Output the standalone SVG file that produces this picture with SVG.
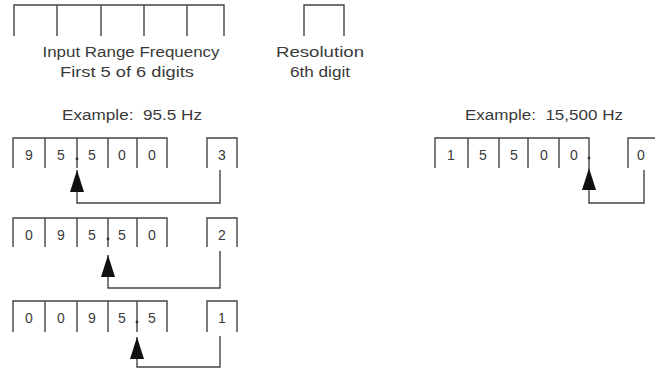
<svg xmlns="http://www.w3.org/2000/svg" width="655" height="370" viewBox="0 0 655 370">
<defs>
<style>
.ln{fill:none;stroke:#444;stroke-width:1.4}
.t{font-family:"Liberation Sans",Arial,sans-serif;font-size:14px;fill:#3a3a3a;text-anchor:middle;white-space:pre}
.d{font-family:"Liberation Sans",Arial,sans-serif;font-size:14px;fill:#3a3a3a;text-anchor:middle}
.dot{fill:#333}
</style>
<marker id="ah" viewBox="0 0 22 14" refX="22" refY="7" markerWidth="22" markerHeight="14" markerUnits="userSpaceOnUse" orient="auto">
<path d="M22 7 L0 0 L0 14 Z" fill="#111"/>
</marker>
</defs>
<rect width="655" height="370" fill="#fff"/>

<g id="header-input">
<path class="ln" d="M14 36 V5 H224 V36 M57 5 V36 M101 5 V36 M144 5 V36 M187 5 V36"/>
<text class="t" x="131" y="57" textLength="177" lengthAdjust="spacingAndGlyphs">Input Range Frequency</text>
<text class="t" x="127" y="77" textLength="134" lengthAdjust="spacingAndGlyphs">First 5 of 6 digits</text>
</g>

<g id="header-resolution">
<path class="ln" d="M304 36 V5 H344 V36"/>
<text class="t" x="320" y="57" textLength="88" lengthAdjust="spacingAndGlyphs">Resolution</text>
<text class="t" x="320" y="77" textLength="60" lengthAdjust="spacingAndGlyphs">6th digit</text>
</g>

<g id="example-left-title">
<text class="t" x="132" y="120" xml:space="preserve" textLength="140" lengthAdjust="spacingAndGlyphs">Example:  95.5 Hz</text>
</g>

<g id="example-right-title">
<text class="t" x="544" y="120" xml:space="preserve" textLength="158" lengthAdjust="spacingAndGlyphs">Example:  15,500 Hz</text>
</g>

<g id="row1">
<path class="ln" d="M13 168 V138 H167 V168 M45 138 V168 M77 138 V168 M108 138 V168 M137 138 V168"/>
<text class="d" x="29" y="160">9</text>
<text class="d" x="61" y="160">5</text>
<text class="d" x="92" y="160">5</text>
<text class="d" x="122" y="160">0</text>
<text class="d" x="152" y="160">0</text>
<circle class="dot" cx="77" cy="159" r="1.4"/>
</g>
<g id="row1-res">
<path class="ln" d="M207 168 V138 H237 V168"/>
<text class="d" x="222" y="160">3</text>
</g>

<g id="row2">
<path class="ln" d="M13 247 V218 H167 V247 M45 218 V247 M77 218 V247 M108 218 V247 M137 218 V247"/>
<text class="d" x="29" y="240">0</text>
<text class="d" x="61" y="240">9</text>
<text class="d" x="92" y="240">5</text>
<text class="d" x="122" y="240">5</text>
<text class="d" x="152" y="240">0</text>
<circle class="dot" cx="108" cy="239" r="1.4"/>
</g>
<g id="row2-res">
<path class="ln" d="M207 247 V218 H237 V247"/>
<text class="d" x="222" y="240">2</text>
</g>

<g id="row3">
<path class="ln" d="M13 332 V301 H167 V332 M45 301 V332 M77 301 V332 M108 301 V332 M137 301 V332"/>
<text class="d" x="29" y="323">0</text>
<text class="d" x="61" y="323">0</text>
<text class="d" x="92" y="323">9</text>
<text class="d" x="122" y="323">5</text>
<text class="d" x="152" y="323">5</text>
<circle class="dot" cx="137" cy="322" r="1.4"/>
</g>
<g id="row3-res">
<path class="ln" d="M207 332 V301 H237 V332"/>
<text class="d" x="222" y="323">1</text>
</g>

<g id="row-right">
<path class="ln" d="M435 168 V138 H589 V168 M468 138 V168 M499 138 V168 M528 138 V168 M559 138 V168"/>
<text class="d" x="451" y="160">1</text>
<text class="d" x="483" y="160">5</text>
<text class="d" x="514" y="160">5</text>
<text class="d" x="544" y="160">0</text>
<text class="d" x="574" y="160">0</text>
<circle class="dot" cx="589" cy="158" r="1.4"/>
</g>
<g id="row-right-res">
<path class="ln" d="M628 168 V138 H658 V168"/>
<text class="d" x="641" y="160">0</text>
</g>

<g id="connectors">
<path class="ln" d="M220 170 V203 H77 V170" marker-end="url(#ah)"/>
<path class="ln" d="M220 251 V288 H108 V255" marker-end="url(#ah)"/>
<path class="ln" d="M220 336 V367 H137 V337" marker-end="url(#ah)"/>
<path class="ln" d="M644 170 V203 H589 V168" marker-end="url(#ah)"/>
</g>
</svg>
